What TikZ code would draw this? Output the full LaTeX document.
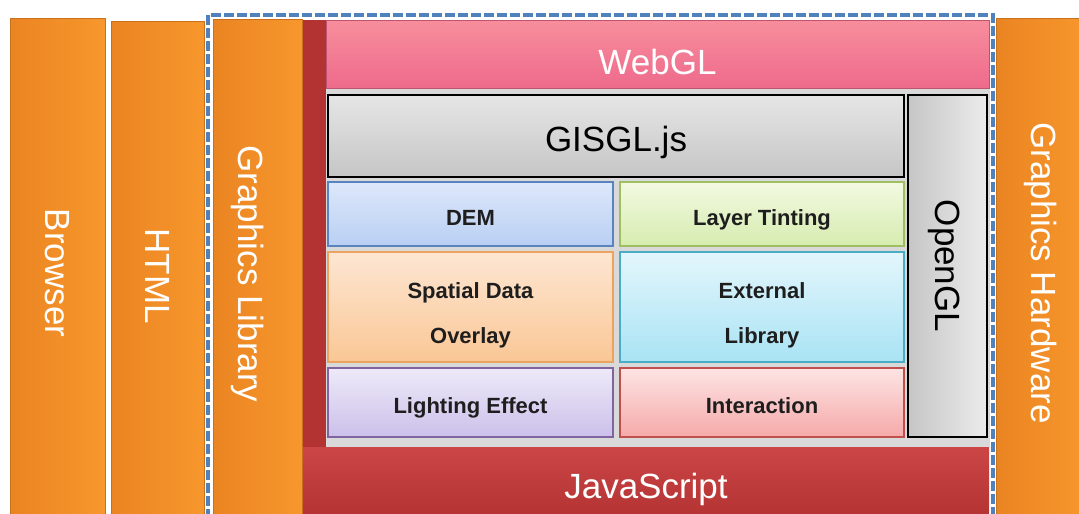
\documentclass[tikz,border=0pt]{standalone}
\usepackage{fontspec}
\setmainfont{Liberation Sans}
\usetikzlibrary{positioning}

% palette
\definecolor{barlo}{HTML}{E27B1E}
\definecolor{barmid}{HTML}{F08C26}
\definecolor{barhi}{HTML}{F99B2F}
\definecolor{barglow}{HTML}{FFD865}
\definecolor{barrim}{HTML}{C8701C}
\definecolor{jsred}{HTML}{B33232}
\definecolor{jslight}{HTML}{CC4646}
\definecolor{webtop}{HTML}{F78E9C}
\definecolor{webbot}{HTML}{EE6A8C}
\definecolor{panelgrey}{HTML}{D9D9D9}
\definecolor{frameblue}{HTML}{4F81BD}
\definecolor{cellink}{HTML}{1E1E1E}
\definecolor{demrim}{HTML}{5A84C0}\definecolor{demtop}{HTML}{DDE8FA}\definecolor{dembot}{HTML}{B9CFF3}
\definecolor{tintrim}{HTML}{A0BE62}\definecolor{tinttop}{HTML}{F3F9E2}\definecolor{tintbot}{HTML}{D6ECAF}
\definecolor{ovlrim}{HTML}{EBA35E}\definecolor{ovltop}{HTML}{FDE6D2}\definecolor{ovlbot}{HTML}{FAC796}
\definecolor{extrim}{HTML}{4BACC6}\definecolor{exttop}{HTML}{E4F6FC}\definecolor{extbot}{HTML}{A9E3F4}
\definecolor{lgtrim}{HTML}{8064A2}\definecolor{lgttop}{HTML}{EEEAF8}\definecolor{lgtbot}{HTML}{CBC0EA}
\definecolor{intrim}{HTML}{C0504D}\definecolor{inttop}{HTML}{FDE4E4}\definecolor{intbot}{HTML}{F6A9A9}

\pgfdeclarehorizontalshading{orangebar}{100bp}{color(0bp)=(barlo); color(45bp)=(barmid); color(86bp)=(barhi); color(95bp)=(barglow); color(100bp)=(barglow)}

\newcommand\bigfont{\fontsize{35}{40}\selectfont}
\newcommand\cellfont{\fontsize{22}{45}\selectfont\bfseries}
\newcommand\vtext[1]{\rotatebox[origin=c]{-90}{#1}}

\begin{document}
\begin{tikzpicture}[x=1pt, y=-1pt,
    every node/.style={inner sep=0pt, outer sep=0pt},
    stackbar/.style={shading=orangebar, draw=barrim, line width=0.5pt, text=white, font=\bigfont, minimum height=510pt},
    cell/.style={draw=#1rim, top color=#1top, bottom color=#1bot, line width=1.4pt, text=cellink, font=\cellfont, align=center},
    oneline/.style={text height=22pt, text depth=0pt},
    twoline/.style={text height=73pt, text depth=0pt},
    greybox/.style={draw=black, line width=2pt, text=black, font=\bigfont},
]
\useasboundingbox (0,0) rectangle (1079,514);
\clip (0,0) rectangle (1079,514);

% outer layers
\node[stackbar, minimum width=95pt] (browser) at (57.5,273) {\vtext{Browser}};
\node[stackbar, minimum width=93pt] (html) at (157.5,276) {\vtext{HTML}};
\node[stackbar, minimum width=89pt] (gfxlib) at (257.5,274) {\vtext{\raisebox{-10pt}[\height][\depth]{Graphics Library}}};
\node[stackbar, minimum width=90pt] (gfxhw) at (1041,273) {\vtext{Graphics Hardware}};

% grey panel behind the modules
\fill[panelgrey] (325,88) rectangle (990,447);

% JavaScript frame
\fill[jsred] (303,20) rectangle (326,447);
\node[top color=jslight, bottom color=jsred, minimum width=686pt, minimum height=73pt,
    text=white, font=\bigfont, text height=30pt, text depth=0pt] (js) at (646,483.5) {JavaScript};

% WebGL on top
\node[top color=webtop, bottom color=webbot, draw=webbot!80!black, line width=0.5pt,
    minimum width=663pt, minimum height=68pt, text=white, font=\bigfont,
    text height=41pt, text depth=0pt] (webgl) at (657.5,54) {WebGL};

% GISGL.js and OpenGL
\node[greybox, top color=gray!20, bottom color=gray!45, minimum width=576pt, minimum height=82pt,
    text height=31pt, text depth=0pt] (gisgl) at (616,136) {GISGL.js};
\node[greybox, left color=gray!45, right color=gray!15, minimum width=79pt, minimum height=342pt] (opengl) at (947.5,266) {\vtext{\raisebox{-3pt}[\height][\depth]{OpenGL}}};

% modules
\node[cell=dem, oneline, minimum width=285pt, minimum height=64pt] (dem) at (470.5,214) {DEM};
\node[cell=tint, oneline, minimum width=284pt, minimum height=64pt] (tint) at (762,214) {Layer Tinting};
\node[cell=ovl, twoline, minimum width=285pt, minimum height=110pt] (overlay) at (470.5,307) {Spatial Data\\Overlay};
\node[cell=ext, twoline, minimum width=284pt, minimum height=110pt] (extlib) at (762,307) {External\\Library};
\node[cell=lgt, oneline, minimum width=285pt, minimum height=69pt] (light) at (470.5,402.5) {Lighting Effect};
\node[cell=int, oneline, minimum width=284pt, minimum height=69pt] (interact) at (762,402.5) {Interaction};

% dashed frame round the graphics library stack
\draw[frameblue, line width=3.5pt, dash pattern=on 10pt off 3pt] (208,15) rectangle (993,530);
\end{tikzpicture}
\end{document}
